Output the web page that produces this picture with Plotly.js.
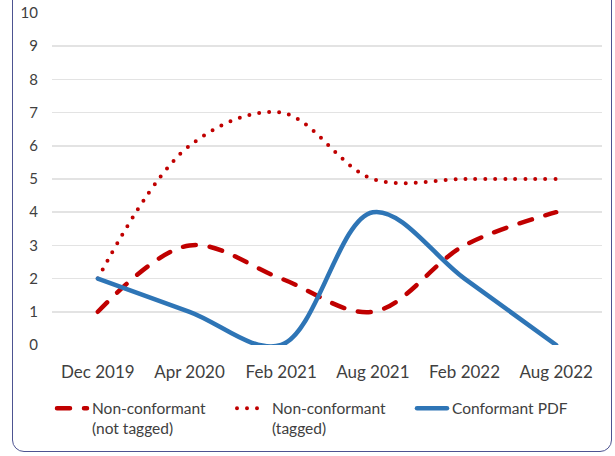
<!DOCTYPE html>
<html>
<head>
<meta charset="utf-8">
<script src="https://cdn.plot.ly/plotly-3.0.1.min.js"></script>
<style>
html,body{margin:0;padding:0;background:#fff;overflow:hidden;}
#wrap{position:relative;width:615px;height:456px;}
#chart{width:615px;height:456px;}
#frame{position:absolute;left:12px;top:-20px;width:600px;height:472px;border:1.5px solid #4d5391;border-radius:12px;pointer-events:none;box-sizing:border-box;}
path.js-line{stroke-linecap:round !important;}
</style>
</head>
<body>
<div id="wrap"><div id="chart"></div><div id="frame"></div></div>
<script>
var categories = ["Dec 2019", "Apr 2020", "Feb 2021", "Aug 2021", "Feb 2022", "Aug 2022"];
var nonConformantNotTagged = [1, 3, 2, 1, 3, 4];
var nonConformantTagged = [2, 6, 7, 5, 5, 5];
var conformantPDF = [2, 1, 0, 4, 2, 0];
var seriesNames = ["Non-conformant<br>(not tagged)", "Non-conformant<br>(tagged)", "Conformant PDF"];

var font = "Lato, 'Open Sans', sans-serif";
var traces = [
  {x: categories, y: nonConformantNotTagged, name: seriesNames[0], type: "scatter", mode: "lines",
   line: {color: "#C00000", width: 4.5, dash: "13px,14px", shape: "spline", smoothing: 1}},
  {x: categories, y: nonConformantTagged, name: seriesNames[1], type: "scatter", mode: "lines",
   line: {color: "#C00000", width: 4, dash: "0px,10px", shape: "spline", smoothing: 1}},
  {x: categories, y: conformantPDF, name: seriesNames[2], type: "scatter", mode: "lines",
   line: {color: "#2E75B6", width: 4.5, shape: "spline", smoothing: 1}}
];

var layout = {
  width: 615, height: 456,
  margin: {l: 52, r: 13, t: 13, b: 110},
  paper_bgcolor: "#fff", plot_bgcolor: "#fff",
  font: {family: font, color: "#404040", size: 14},
  showlegend: true,
  legend: {orientation: "h", x: 0, xanchor: "left", y: -0.137, yanchor: "top",
           valign: "top", font: {family: font, size: 15.5, color: "#404040"},
           entrywidth: 135, tracegroupgap: 0, bgcolor: "rgba(0,0,0,0)"},
  xaxis: {type: "category", range: [-0.5, 5.5], showgrid: false, zeroline: false, showline: false,
          ticks: "", tickfont: {family: font, size: 17, color: "#404040"}, ticklabelstandoff: 15},
  yaxis: {range: [0, 10], dtick: 1, tick0: 0, showgrid: true, gridcolor: "#e3e3e3", gridwidth: 1.5,
          zeroline: false, showline: false, ticks: "",
          tickfont: {family: font, size: 15, color: "#404040"}, ticklabelstandoff: 13}
};

Plotly.newPlot("chart", traces, layout, {displayModeBar: false, staticPlot: true});
</script>
</body>
</html>
